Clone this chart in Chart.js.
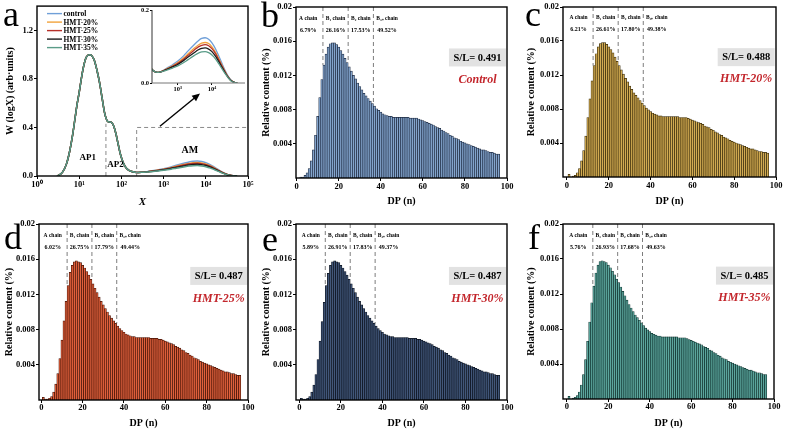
<!DOCTYPE html>
<html><head><meta charset="utf-8">
<script src="https://cdn.jsdelivr.net/npm/chart.js@4.4.0/dist/chart.umd.min.js"></script>
<style>
html,body{margin:0;padding:0;background:#fff}
body{width:789px;height:431px;position:relative;overflow:hidden}
canvas{position:absolute;display:block}
.lt{position:absolute;font-family:'Liberation Serif','Times New Roman',serif;font-size:36px;line-height:1;color:#000;z-index:5}
</style></head><body>
<canvas id="ca" width="260" height="215" style="left:0;top:0"></canvas>
<canvas id="cin" width="115" height="96" style="left:135px;top:2px"></canvas>
<canvas id="cb" width="260" height="215" style="left:260px;top:0"></canvas>
<canvas id="cc" width="264" height="215" style="left:525px;top:0"></canvas>
<canvas id="cd" width="260" height="216" style="left:0;top:215px"></canvas>
<canvas id="ce" width="260" height="216" style="left:260px;top:215px"></canvas>
<canvas id="cf" width="264" height="216" style="left:525px;top:215px"></canvas>
<div class="lt" style="left:3px;top:-4px">a</div>
<div class="lt" style="left:261px;top:-3px">b</div>
<div class="lt" style="left:525px;top:-4px">c</div>
<div class="lt" style="left:4px;top:219px">d</div>
<div class="lt" style="left:262px;top:221px">e</div>
<div class="lt" style="left:528px;top:219px">f</div>
<script>
// ---------- Panel a data ----------
const SERIES_NAMES = ['control','HMT-20%','HMT-25%','HMT-30%','HMT-35%'];
const X_MW = [3,4,5,6,7,8,9,10,12,14,16,18,20,23,26,30,35,40,46,52,59,66,74,83,93,105,122,145,175,210,250,300,
  400,500,700,1000,1500,2000,3000,4000,5000,6300,8000,10000,13000,16000,20000,25000,30000,37000,45000,55000];
const W_CONTROL = [0.0,0.03,0.10,0.21,0.34,0.48,0.60,0.69,0.86,0.96,0.995,1.0,0.99,0.95,0.88,0.78,0.64,0.52,0.455,0.445,0.44,0.41,0.35,0.27,0.19,0.13,0.08,0.05,0.037,0.031,0.029,0.030,
  0.036,0.042,0.050,0.060,0.075,0.088,0.105,0.116,0.122,0.124,0.120,0.110,0.092,0.073,0.052,0.032,0.018,0.007,0.002,0.0];
const W_HMT20 = [0.0,0.03,0.10,0.21,0.34,0.48,0.60,0.69,0.86,0.96,0.995,1.0,0.99,0.95,0.88,0.78,0.64,0.52,0.455,0.445,0.44,0.41,0.35,0.27,0.19,0.13,0.08,0.05,0.037,0.031,0.029,0.030,
  0.035,0.040,0.047,0.056,0.069,0.080,0.095,0.104,0.109,0.111,0.108,0.099,0.083,0.066,0.047,0.029,0.016,0.006,0.002,0.0];
const W_HMT25 = [0.0,0.03,0.10,0.21,0.34,0.48,0.60,0.69,0.86,0.96,0.995,1.0,0.99,0.95,0.88,0.78,0.64,0.52,0.455,0.445,0.44,0.41,0.35,0.27,0.19,0.13,0.08,0.05,0.037,0.031,0.029,0.030,
  0.035,0.039,0.046,0.054,0.066,0.076,0.090,0.099,0.103,0.105,0.102,0.094,0.079,0.063,0.045,0.028,0.016,0.006,0.002,0.0];
const W_HMT30 = [0.0,0.03,0.10,0.21,0.34,0.48,0.60,0.69,0.86,0.96,0.995,1.0,0.99,0.95,0.88,0.78,0.64,0.52,0.455,0.445,0.44,0.41,0.35,0.27,0.19,0.13,0.08,0.05,0.037,0.031,0.029,0.030,
  0.034,0.038,0.044,0.051,0.062,0.071,0.083,0.091,0.095,0.096,0.093,0.086,0.072,0.058,0.042,0.026,0.015,0.006,0.002,0.0];
const W_HMT35 = [0.0,0.03,0.10,0.21,0.34,0.48,0.60,0.69,0.86,0.96,0.995,1.0,0.99,0.95,0.88,0.78,0.64,0.52,0.455,0.445,0.44,0.41,0.35,0.27,0.19,0.13,0.08,0.05,0.037,0.031,0.029,0.030,
  0.033,0.036,0.041,0.047,0.056,0.064,0.075,0.082,0.085,0.086,0.083,0.077,0.065,0.052,0.038,0.024,0.014,0.005,0.002,0.0];
const A_X_TICKS = [1,10,100,1000,10000,100000];
const A_X_LABELS = ['10\u2070','10\u00b9','10\u00b2','10\u00b3','10\u2074','10\u2075'];
const A_Y_TICKS = [0,0.4,0.8,1.2];
const IN_X_TICKS = [1000,10000];
const IN_X_LABELS = ['10\u00b3','10\u2074'];
const IN_Y_TICKS = [0,0.2];
const REGION_LABELS = ['AP1','AP2','AM'];

// ---------- Bar panels data ----------
const DP = [1,2,3,4,5,6,7,8,9,10,11,12,13,14,15,16,17,18,19,20,21,22,23,24,25,26,27,28,29,30,31,32,33,34,35,36,37,38,39,40,
  41,42,43,44,45,46,47,48,49,50,51,52,53,54,55,56,57,58,59,60,61,62,63,64,65,66,67,68,69,70,71,72,73,74,75,76,77,78,79,80,
  81,82,83,84,85,86,87,88,89,90,91,92,93,94,95,96];
const RC_CONTROL = [0.0000,0.0001,0.0001,0.0003,0.0006,0.0011,0.0020,0.0033,0.0050,0.0072,
 0.0094,0.0115,0.0132,0.0145,0.0153,0.0157,0.0158,0.0158,0.0156,0.0153,
 0.0149,0.0145,0.0140,0.0135,0.0130,0.0125,0.0120,0.0116,0.0111,0.0107,
 0.0103,0.0099,0.0096,0.0093,0.0090,0.0087,0.0084,0.0081,0.0079,0.0077,
 0.0075,0.0074,0.0073,0.0072,0.0072,0.0071,0.0071,0.0071,0.0071,0.0071,
 0.0071,0.0071,0.0071,0.0070,0.0070,0.0070,0.0070,0.0069,0.0068,0.0067,
 0.0066,0.0065,0.0064,0.0063,0.0062,0.0060,0.0059,0.0058,0.0056,0.0055,
 0.0053,0.0052,0.0050,0.0049,0.0047,0.0046,0.0045,0.0043,0.0042,0.0041,
 0.0040,0.0039,0.0038,0.0037,0.0036,0.0035,0.0034,0.0033,0.0033,0.0032,
 0.0031,0.0030,0.0030,0.0029,0.0028,0.0028];
const RC_HMT20 = [0.0003,0.0000,0.0001,0.0002,0.0005,0.0010,0.0019,0.0031,0.0048,0.0070,
 0.0092,0.0113,0.0131,0.0145,0.0153,0.0157,0.0158,0.0158,0.0156,0.0153,
 0.0150,0.0146,0.0141,0.0136,0.0131,0.0126,0.0121,0.0116,0.0112,0.0107,
 0.0103,0.0099,0.0096,0.0093,0.0090,0.0087,0.0084,0.0081,0.0079,0.0077,
 0.0075,0.0074,0.0073,0.0072,0.0072,0.0071,0.0071,0.0071,0.0071,0.0071,
 0.0071,0.0071,0.0071,0.0070,0.0070,0.0070,0.0070,0.0069,0.0068,0.0067,
 0.0066,0.0065,0.0064,0.0063,0.0062,0.0060,0.0059,0.0058,0.0056,0.0055,
 0.0053,0.0052,0.0050,0.0049,0.0047,0.0046,0.0045,0.0043,0.0042,0.0041,
 0.0040,0.0039,0.0038,0.0037,0.0036,0.0035,0.0034,0.0033,0.0033,0.0032,
 0.0031,0.0030,0.0030,0.0029,0.0029,0.0028];
const RC_HMT25 = [0.0003,0.0001,0.0001,0.0002,0.0004,0.0009,0.0018,0.0030,0.0047,0.0068,
 0.0090,0.0112,0.0130,0.0145,0.0153,0.0157,0.0158,0.0157,0.0156,0.0153,
 0.0150,0.0146,0.0142,0.0137,0.0132,0.0127,0.0122,0.0117,0.0112,0.0108,
 0.0104,0.0100,0.0096,0.0093,0.0090,0.0087,0.0084,0.0081,0.0079,0.0077,
 0.0075,0.0074,0.0073,0.0072,0.0072,0.0071,0.0071,0.0071,0.0071,0.0071,
 0.0071,0.0071,0.0070,0.0070,0.0070,0.0070,0.0069,0.0069,0.0068,0.0067,
 0.0066,0.0065,0.0064,0.0063,0.0061,0.0060,0.0059,0.0057,0.0056,0.0054,
 0.0053,0.0051,0.0050,0.0048,0.0047,0.0046,0.0044,0.0043,0.0042,0.0041,
 0.0040,0.0039,0.0038,0.0037,0.0036,0.0035,0.0034,0.0033,0.0032,0.0032,
 0.0031,0.0030,0.0030,0.0029,0.0028,0.0028];
const RC_HMT30 = [0.0002,0.0001,0.0001,0.0002,0.0004,0.0009,0.0017,0.0029,0.0046,0.0067,
 0.0089,0.0111,0.0130,0.0144,0.0153,0.0157,0.0158,0.0157,0.0156,0.0153,
 0.0150,0.0146,0.0142,0.0137,0.0132,0.0127,0.0122,0.0117,0.0112,0.0108,
 0.0104,0.0100,0.0096,0.0093,0.0090,0.0087,0.0084,0.0081,0.0079,0.0077,
 0.0075,0.0074,0.0073,0.0072,0.0072,0.0071,0.0071,0.0071,0.0071,0.0071,
 0.0071,0.0071,0.0070,0.0070,0.0070,0.0070,0.0069,0.0069,0.0068,0.0067,
 0.0066,0.0065,0.0064,0.0063,0.0061,0.0060,0.0059,0.0057,0.0056,0.0054,
 0.0053,0.0051,0.0050,0.0048,0.0047,0.0046,0.0044,0.0043,0.0042,0.0041,
 0.0040,0.0039,0.0038,0.0037,0.0036,0.0035,0.0034,0.0033,0.0032,0.0032,
 0.0031,0.0030,0.0030,0.0029,0.0028,0.0028];
const RC_HMT35 = [0.0003,0.0000,0.0001,0.0002,0.0004,0.0008,0.0016,0.0028,0.0045,0.0066,
 0.0088,0.0110,0.0129,0.0144,0.0153,0.0157,0.0158,0.0157,0.0156,0.0153,
 0.0150,0.0146,0.0142,0.0137,0.0133,0.0128,0.0123,0.0118,0.0113,0.0108,
 0.0104,0.0100,0.0096,0.0093,0.0090,0.0087,0.0084,0.0081,0.0079,0.0077,
 0.0075,0.0074,0.0073,0.0072,0.0072,0.0071,0.0071,0.0071,0.0071,0.0071,
 0.0071,0.0071,0.0071,0.0070,0.0070,0.0070,0.0070,0.0069,0.0068,0.0067,
 0.0066,0.0065,0.0064,0.0063,0.0062,0.0060,0.0059,0.0058,0.0056,0.0055,
 0.0053,0.0052,0.0050,0.0049,0.0047,0.0046,0.0045,0.0043,0.0042,0.0041,
 0.0040,0.0039,0.0038,0.0037,0.0036,0.0035,0.0034,0.0033,0.0033,0.0032,
 0.0031,0.0030,0.0030,0.0029,0.0028,0.0028];
const CHAIN_NAMES = ['A chain','B\u2081 chain','B\u2082 chain','B\u2083\u208a chain'];
const CHAIN_BOUNDS = [12.5,24.5,36.5];
const CHAIN_LABEL_X = [5.5,18.5,30.5,43];
const PCT_CONTROL = [6.79,26.16,17.53,49.52];
const PCT_HMT20 = [6.21,26.61,17.80,49.38];
const PCT_HMT25 = [6.02,26.75,17.79,49.44];
const PCT_HMT30 = [5.89,26.91,17.83,49.37];
const PCT_HMT35 = [5.76,26.93,17.68,49.63];
const SL_VALUES = [0.491,0.488,0.487,0.487,0.485];
const BAR_X_TICKS = [0,20,40,60,80,100];
const BAR_Y_TICKS = [0.004,0.008,0.012,0.016,0.02];

// ---------- helpers ----------
const FF = "'Liberation Serif','Times New Roman',serif";
const font = (size, weight='bold', style='normal') => ({family:FF, size, weight, style, lineHeight:1.2});
const cfont = (size, weight='bold', style='normal') => `${style} ${weight} ${size}px ${FF}`;
const LINE_COLORS = ['#6f9fd8','#f2a33c','#b7312a','#1b1b1b','#5a9c88'];

const framePlugin = {id:'frame', afterDraw(c){
  const a=c.chartArea, x=c.ctx; x.save(); x.strokeStyle='#000'; x.lineWidth=1.4;
  x.strokeRect(a.left,a.top,a.right-a.left,a.bottom-a.top); x.restore();
}};
const tickGrid = {display:true, drawOnChartArea:false, drawTicks:true, tickLength:3, color:'#000', lineWidth:1};

// ---------- Panel a ----------
const SERIES_W = [W_CONTROL,W_HMT20,W_HMT25,W_HMT30,W_HMT35];
function lineDatasets(width){
  // reversed so that HMT-35% lies on top where curves coincide
  return [4,3,2,1,0].map(k=>({
    label:SERIES_NAMES[k],
    data:X_MW.map((x,i)=>({x, y:SERIES_W[k][i]})),
    borderColor:LINE_COLORS[k], borderWidth:width, pointRadius:0, fill:false,
    cubicInterpolationMode:'monotone'
  }));
}
const aDeco = {id:'adeco', afterDatasetsDraw(c){
  const {ctx, chartArea:a, scales:{x,y}} = c;
  ctx.save();
  ctx.strokeStyle='#8a8a8a'; ctx.lineWidth=1; ctx.setLineDash([4,3]);
  ctx.beginPath();
  ctx.moveTo(x.getPixelForValue(43), y.getPixelForValue(0));
  ctx.lineTo(x.getPixelForValue(43), y.getPixelForValue(0.43));
  ctx.moveTo(x.getPixelForValue(230), y.getPixelForValue(0));
  ctx.lineTo(x.getPixelForValue(230), y.getPixelForValue(0.4));
  ctx.lineTo(a.right, y.getPixelForValue(0.4));
  ctx.stroke();
  ctx.setLineDash([]);
  const x1=x.getPixelForValue(818), y1=y.getPixelForValue(0.41), x2=x.getPixelForValue(7300), y2=y.getPixelForValue(0.68);
  ctx.strokeStyle='#000'; ctx.fillStyle='#000'; ctx.lineWidth=1.4;
  const ang=Math.atan2(y2-y1,x2-x1);
  ctx.beginPath(); ctx.moveTo(x1,y1); ctx.lineTo(x2-6*Math.cos(ang),y2-6*Math.sin(ang)); ctx.stroke();
  ctx.beginPath(); ctx.moveTo(x2,y2);
  ctx.lineTo(x2-8*Math.cos(ang)+3.5*Math.sin(ang), y2-8*Math.sin(ang)-3.5*Math.cos(ang));
  ctx.lineTo(x2-8*Math.cos(ang)-3.5*Math.sin(ang), y2-8*Math.sin(ang)+3.5*Math.cos(ang));
  ctx.closePath(); ctx.fill();
  ctx.textAlign='center'; ctx.textBaseline='middle';
  ctx.font=cfont(9); ctx.fillText(REGION_LABELS[0], x.getPixelForValue(16), y.getPixelForValue(0.155));
  ctx.fillText(REGION_LABELS[1], x.getPixelForValue(72), y.getPixelForValue(0.09));
  ctx.font=cfont(10); ctx.fillText(REGION_LABELS[2], x.getPixelForValue(4200), y.getPixelForValue(0.21));
  ctx.textAlign='left'; ctx.font=cfont(7.5);
  SERIES_NAMES.forEach((n,k)=>{
    const yy=a.top+7.5+8.5*k;
    ctx.strokeStyle=LINE_COLORS[k]; ctx.lineWidth=1.4;
    ctx.beginPath(); ctx.moveTo(a.left+10,yy); ctx.lineTo(a.left+25,yy); ctx.stroke();
    ctx.fillStyle='#000'; ctx.fillText(n, a.left+26.5, yy+0.5);
  });
  ctx.restore();
}};
new Chart(document.getElementById('ca'), {
  type:'line',
  data:{datasets:lineDatasets(1.5)},
  options:{
    responsive:false, animation:false, events:[],
    layout:{padding:{top:5,right:12,left:0,bottom:0}},
    plugins:{legend:{display:false}, tooltip:{enabled:false}},
    scales:{
      x:{type:'logarithmic', min:1, max:100000,
        afterFit:s=>{s.height=39;},
        afterBuildTicks:s=>{s.ticks=A_X_TICKS.map(v=>({value:v}));},
        ticks:{font:font(8.5), color:'#000', padding:1, maxRotation:0, autoSkip:false,
          callback:(v)=>A_X_LABELS[A_X_TICKS.indexOf(v)] ?? ''},
        grid:tickGrid, border:{display:false},
        title:{display:true, text:'X', font:font(11,'bold','italic'), color:'#000', padding:{top:0,bottom:6}}},
      y:{min:0, max:1.4,
        afterFit:s=>{s.width=37;},
        afterBuildTicks:s=>{s.ticks=A_Y_TICKS.map(v=>({value:v}));},
        ticks:{font:font(8.5), color:'#000', padding:1, callback:v=>Number(v).toFixed(1)},
        grid:tickGrid, border:{display:false},
        title:{display:true, text:'W (logX) (arb\u00b7units)', font:font(10), color:'#000', padding:{top:4,bottom:0}}}
    }
  },
  plugins:[framePlugin, aDeco]
});

// ---------- inset ----------
const insetFrame = {id:'iframe', afterDraw(c){
  const a=c.chartArea, x=c.ctx; x.save(); x.lineWidth=1;
  x.strokeStyle='#333'; x.beginPath(); x.moveTo(a.left,a.top); x.lineTo(a.left,a.bottom); x.stroke();
  x.strokeStyle='#777'; x.beginPath(); x.moveTo(a.left,a.bottom); x.lineTo(a.right,a.bottom); x.stroke();
  x.restore();
}};
new Chart(document.getElementById('cin'), {
  type:'line',
  data:{datasets:lineDatasets(1.3)},
  options:{
    responsive:false, animation:false, events:[],
    layout:{padding:{top:8,right:5,left:0,bottom:0}},
    plugins:{legend:{display:false}, tooltip:{enabled:false}},
    scales:{
      x:{type:'logarithmic', min:175, max:93000,
        afterFit:s=>{s.height=15;},
        afterBuildTicks:s=>{s.ticks=IN_X_TICKS.map(v=>({value:v}));},
        ticks:{font:font(6.5), color:'#000', padding:0, maxRotation:0, autoSkip:false,
          callback:(v)=>IN_X_LABELS[IN_X_TICKS.indexOf(v)] ?? ''},
        grid:{...tickGrid, tickLength:2}, border:{display:false}},
      y:{min:0, max:0.2,
        afterFit:s=>{s.width=17;},
        afterBuildTicks:s=>{s.ticks=IN_Y_TICKS.map(v=>({value:v}));},
        ticks:{font:font(6.5), color:'#000', padding:1, callback:v=>Number(v).toFixed(1)},
        grid:{...tickGrid, tickLength:2}, border:{display:false}}
    }
  },
  plugins:[insetFrame]
});

// ---------- bar panels ----------
function barDeco(values, pcts, sl, name){
  return {id:'bdeco', afterDatasetsDraw(c){
    const {ctx, chartArea:a, scales:{x,y}} = c;
    ctx.save();
    ctx.strokeStyle='#7d7d7d'; ctx.lineWidth=1; ctx.setLineDash([4,3]);
    CHAIN_BOUNDS.forEach(b=>{
      const i=Math.floor(b);
      const v=Math.max(values[i-1], values[i]);
      const px=x.getPixelForValue(b);
      ctx.beginPath(); ctx.moveTo(px,a.top); ctx.lineTo(px,y.getPixelForValue(v)); ctx.stroke();
    });
    ctx.setLineDash([]);
    ctx.fillStyle='#000'; ctx.textAlign='center'; ctx.textBaseline='middle';
    CHAIN_NAMES.forEach((n,k)=>{
      const px=x.getPixelForValue(CHAIN_LABEL_X[k]);
      ctx.font=cfont(5.5); ctx.fillText(n, px, y.getPixelForValue(0.0187));
      ctx.font=cfont(6); ctx.fillText(pcts[k].toFixed(2)+'%', px, y.getPixelForValue(0.0173));
    });
    const w=a.right-a.left, h=a.bottom-a.top;
    const bx=a.left+0.86*w, by=a.top+0.295*h;
    ctx.fillStyle='#e2e2e2'; ctx.fillRect(bx-28.5, by-9, 57, 18);
    ctx.fillStyle='#000'; ctx.font=cfont(10.5); ctx.fillText('S/L= '+sl.toFixed(3), bx, by+0.5);
    ctx.fillStyle='#c3262c'; ctx.font=cfont(12,'bold','italic'); ctx.fillText(name, bx, a.top+0.425*h);
    ctx.restore();
  }};
}
function barChart(id, values, fill, edge, pcts, sl, name, xMin, lay){
  new Chart(document.getElementById(id), {
    type:'bar',
    data:{datasets:[{data:DP.map((d,i)=>({x:d, y:values[i]})), backgroundColor:fill, borderColor:edge,
      borderWidth:0.7, barPercentage:1, categoryPercentage:1, borderSkipped:'start', inflateAmount:0.35}]},
    options:{
      responsive:false, animation:false, events:[],
      layout:{padding:{top:lay.top, right:lay.right, left:0, bottom:0}},
      plugins:{legend:{display:false}, tooltip:{enabled:false}},
      scales:{
        x:{type:'linear', min:xMin, max:100, offset:false,
          afterFit:s=>{s.height=lay.xh;},
          afterBuildTicks:s=>{s.ticks=BAR_X_TICKS.map(v=>({value:v}));},
          ticks:{font:font(8.5), color:'#000', padding:lay.tp, maxRotation:0, autoSkip:false},
          grid:{...tickGrid, offset:false}, border:{display:false},
          title:{display:true, text:'DP (n)', font:font(10), color:'#000', padding:{top:0,bottom:lay.tb}}},
        y:{min:0, max:0.02,
          afterFit:s=>{s.width=lay.yw;},
          afterBuildTicks:s=>{s.ticks=BAR_Y_TICKS.map(v=>({value:v}));},
          ticks:{font:font(8.5), color:'#000', padding:1, callback:v=>String(Number(Number(v).toFixed(3)))},
          grid:tickGrid, border:{display:false},
          title:{display:true, text:'Relative content (%)', font:font(10), color:'#000', padding:{top:lay.yt,bottom:0}}}
      }
    },
    plugins:[framePlugin, barDeco(values, pcts, sl, name)]
  });
}
barChart('cb', RC_CONTROL, '#83a4cc', '#1e2b42', PCT_CONTROL, SL_VALUES[0], 'Control', -0.3, {top:7,right:13,xh:37,yw:36,tp:1,tb:8,yt:0});
barChart('cc', RC_HMT20, '#d2ab52', '#3a2c0a', PCT_HMT20, SL_VALUES[1], 'HMT-20%', -1.9, {top:7,right:13,xh:38,yw:38,tp:1,tb:8,yt:0});
barChart('cd', RC_HMT25, '#e0603c', '#461306', PCT_HMT25, SL_VALUES[2], 'HMT-25%', -1.1, {top:9,right:12,xh:31,yw:39,tp:0,tb:2,yt:3});
barChart('ce', RC_HMT30, '#42577a', '#0b121e', PCT_HMT30, SL_VALUES[3], 'HMT-30%', -1.6, {top:9,right:13,xh:31,yw:36,tp:0,tb:2,yt:0});
barChart('cf', RC_HMT35, '#5ca69d', '#10332f', PCT_HMT35, SL_VALUES[4], 'HMT-35%', -1.9, {top:9,right:15,xh:32,yw:38,tp:0,tb:2,yt:0});
</script>
</body></html>
